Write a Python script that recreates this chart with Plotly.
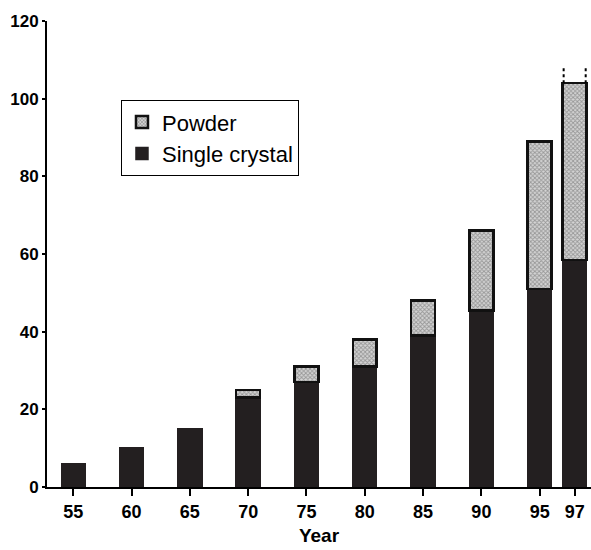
import plotly.graph_objects as go

# ---- data ----
years = ["55", "60", "65", "70", "75", "80", "85", "90", "95", "97"]
x_pos = [55, 60, 65, 70, 75, 80, 85, 90, 95, 98]   # 97 sits closer to 95 on the original axis
single_crystal = [6, 10, 15, 23, 27, 31, 39, 45.5, 51, 58.5]
powder = [None, None, None, 2, 4, 7, 9, 20.5, 38, 45.5]
extension_97 = 4          # dotted (projected) extension above the 1997 bar
y_ticks = [0, 20, 40, 60, 80, 100, 120]

BAR_W = 2.05
FONT = "Liberation Sans, Arial, sans-serif"

fig = go.Figure()

fig.add_trace(go.Bar(
    x=x_pos, y=single_crystal, name="Single crystal", width=BAR_W,
    marker=dict(color="#231f20", line=dict(color="#231f20", width=1.5)),
))

fig.add_trace(go.Bar(
    x=x_pos, y=powder, name="Powder", width=BAR_W,
    marker=dict(
        color="#bdbdbd",
        line=dict(color="#111111", width=2.5),
        pattern=dict(shape="x", size=3, solidity=0.5, fgcolor="#5a5a5a", bgcolor="#d4d4d4"),
    ),
))

# dotted extension lines on both edges of the 1997 bar, derived from the data
total_97 = single_crystal[-1] + powder[-1]
for edge in (-1, 1):
    xe = x_pos[-1] + edge * (BAR_W / 2 - 0.08)
    fig.add_trace(go.Scatter(
        x=[xe, xe],
        y=[total_97, total_97 + extension_97],
        mode="lines", line=dict(color="black", width=2, dash="3px,3px"),
        showlegend=False, hoverinfo="skip", cliponaxis=False,
    ))

fig.update_layout(
    width=591, height=550,
    margin=dict(l=47, r=0, t=21, b=63, autoexpand=False),
    barmode="stack",
    paper_bgcolor="white", plot_bgcolor="white",
    font=dict(family=FONT, color="black"),
    legend=dict(
        x=0.136, y=0.83, xanchor="left", yanchor="top",
        bordercolor="black", borderwidth=1, bgcolor="white",
        font=dict(size=22, family=FONT),
        traceorder="reversed",
    ),
    xaxis=dict(
        range=[52.75, 99.4], automargin=False,
        tickvals=x_pos, ticktext=years,
        showgrid=False, zeroline=False,
        showline=True, linecolor="black", linewidth=2,
        ticks="outside", ticklen=7, tickwidth=2, tickcolor="black",
        tickfont=dict(size=18, family=FONT, weight="bold"),
        title=dict(text="Year", font=dict(size=19, family=FONT, weight="bold"), standoff=8),
    ),
    yaxis=dict(
        range=[0, 120], automargin=False,
        tickvals=y_ticks,
        showgrid=False, zeroline=False,
        showline=True, linecolor="black", linewidth=2,
        ticks="outside", ticklen=3, tickwidth=2, tickcolor="black",
        tickfont=dict(size=17, family=FONT, weight="bold"),
    ),
)

fig.write_html(
    "out.html",
    config={"displayModeBar": False},
    post_script="document.body.style.margin='0';document.body.style.overflow='hidden';",
)
